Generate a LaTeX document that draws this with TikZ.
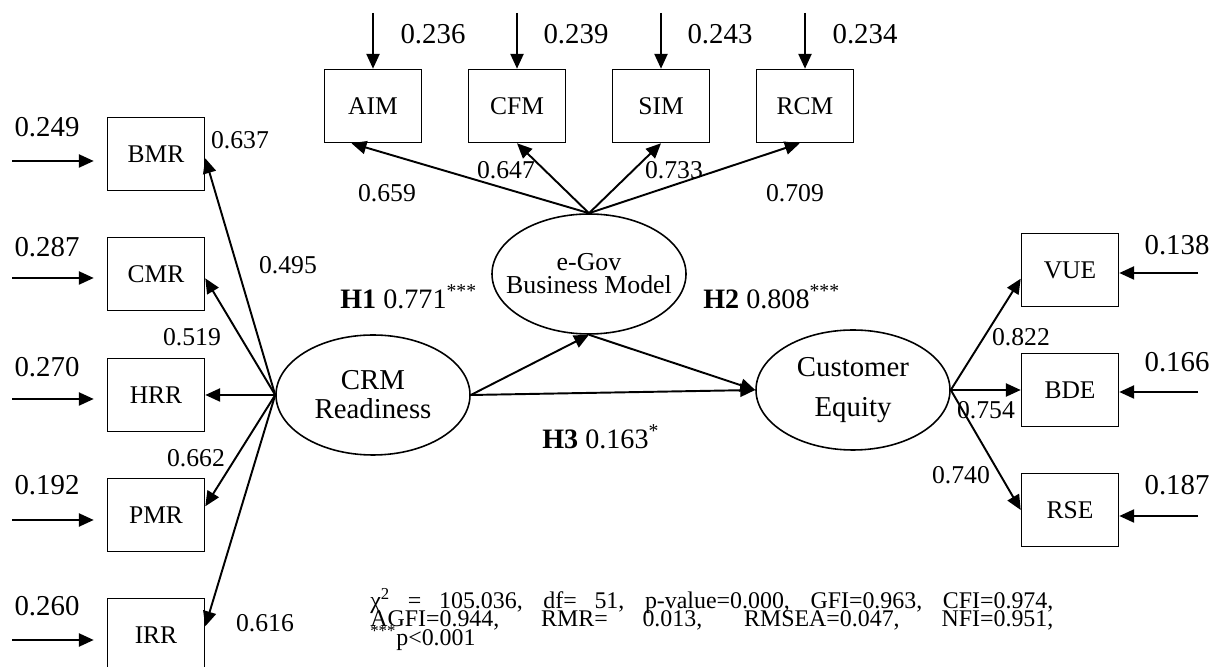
\documentclass[tikz,border=0pt]{standalone}
\usepackage{fontspec}
\setmainfont{Liberation Serif}
\usetikzlibrary{arrows.meta,shapes.geometric}

\begin{document}
\begin{tikzpicture}[
  obs/.style={draw,line width=0.9pt,minimum width=1.94cm,minimum height=1.46cm,inner sep=0pt,font=\fontsize{14.5}{17}\selectfont},
  latent/.style={draw,ellipse,line width=0.9pt,minimum width=3.88cm,minimum height=2.4cm,inner sep=0pt},
  load/.style={-{Triangle[length=8.5pt,width=7.5pt]},line width=1.1pt},
  ev/.style={font=\fontsize{16.4}{18}\selectfont},
  lv/.style={font=\fontsize{14.6}{17}\selectfont},
  hyp/.style={anchor=west,inner sep=0pt,font=\fontsize{16}{18}\selectfont},
  fitline/.style={anchor=base west,inner sep=0pt,font=\fontsize{13.6}{16}\selectfont}]
  \useasboundingbox (0,0) rectangle (24.34,13.34);
  % measured variables
  \node[obs] (bmr) at (3.12,10.26) {BMR};
  \node[obs] (cmr) at (3.12,7.86) {CMR};
  \node[obs] (hrr) at (3.12,5.44) {HRR};
  \node[obs] (pmr) at (3.12,3.04) {PMR};
  \node[obs] (irr) at (3.12,0.64) {IRR};
  \node[obs] (aim) at (7.46,11.22) {AIM};
  \node[obs] (cfm) at (10.34,11.22) {CFM};
  \node[obs] (sim) at (13.22,11.22) {SIM};
  \node[obs] (rcm) at (16.10,11.22) {RCM};
  \node[obs] (vue) at (21.40,7.94) {VUE};
  \node[obs] (bde) at (21.40,5.54) {BDE};
  \node[obs] (rse) at (21.40,3.14) {RSE};
  % latent constructs
  \node[latent] (crm) at (7.46,5.44) {};
  \node[align=center,font=\fontsize{16.4}{16.4}\selectfont] (crmtxt) at (crm) {CRM\\Readiness};
  \node[latent] (egov) at (11.78,7.86) {};
  \node[align=center,font=\fontsize{14.7}{13}\selectfont] (egovtxt) at (egov) {e-Gov\\Business Model};
  \node[latent] (ce) at (17.06,5.54) {};
  \node[align=center,font=\fontsize{16.4}{22.7}\selectfont] (cetxt) at (ce) {Customer\\Equity};
  % loadings
  \draw[load] (crm.west) -- (bmr.355);
  \draw[load] (crm.west) -- (cmr.355);
  \draw[load] (crm.west) -- (hrr.east);
  \draw[load] (crm.west) -- (pmr.10);
  \draw[load] (crm.west) -- (irr.10);
  \draw[load] (egov.north) -- (aim.240);
  \draw[load] (egov.north) -- (cfm.south);
  \draw[load] (egov.north) -- (sim.south);
  \draw[load] (egov.north) -- (rcm.262);
  \draw[load] (ce.east) -- (vue.190);
  \draw[load] (ce.east) -- (bde.west);
  \draw[load] (ce.east) -- (rse.west);
  \node[lv] (lbmr) at (4.80,10.54) {0.637};
  \node[lv] (lcmr) at (5.76,8.04) {0.495};
  \node[lv] (lhrr) at (3.84,6.60) {0.519};
  \node[lv] (lpmr) at (3.92,4.18) {0.662};
  \node[lv] (lirr) at (5.30,0.88) {0.616};
  \node[lv] (laim) at (7.74,9.48) {0.659};
  \node[lv] (lcfm) at (10.12,9.94) {0.647};
  \node[lv] (lsim) at (13.48,9.94) {0.733};
  \node[lv] (lrcm) at (15.90,9.48) {0.709};
  \node[lv] (lvue) at (20.42,6.60) {0.822};
  \node[lv] (lbde) at (19.72,5.14) {0.754};
  \node[lv] (lrse) at (19.22,3.84) {0.740};
  % structural paths
  \draw[load] (crm.east) -- (egov.south);
  \draw[load] (egov.south) -- (ce.west);
  \draw[load] (crm.east) -- (ce.west);
  \node[hyp] (h1) at (6.80,7.40) {\textbf{H1} 0.771\textsuperscript{***}};
  \node[hyp] (h2) at (14.06,7.40) {\textbf{H2} 0.808\textsuperscript{***}};
  \node[hyp] (h3) at (10.84,4.60) {\textbf{H3} 0.163\textsuperscript{*}};
  % error terms
  \coordinate (ebmr) at (0.24,10.12);
  \coordinate (ecmr) at (0.24,7.78);
  \coordinate (ehrr) at (0.24,5.36);
  \coordinate (epmr) at (0.24,2.94);
  \coordinate (eirr) at (0.24,0.54);
  \draw[load,shorten >=0.26cm] (ebmr) -- (ebmr -| bmr.west);
  \draw[load,shorten >=0.26cm] (ecmr) -- (ecmr -| cmr.west);
  \draw[load,shorten >=0.26cm] (ehrr) -- (ehrr -| hrr.west);
  \draw[load,shorten >=0.26cm] (epmr) -- (epmr -| pmr.west);
  \draw[load,shorten >=0.26cm] (eirr) -- (eirr -| irr.west);
  \node[ev] (vbmr) at (0.94,10.80) {0.249};
  \node[ev] (vcmr) at (0.94,8.40) {0.287};
  \node[ev] (vhrr) at (0.94,6.00) {0.270};
  \node[ev] (vpmr) at (0.94,3.64) {0.192};
  \node[ev] (virr) at (0.94,1.22) {0.260};
  \coordinate (eaim) at (7.46,13.08);
  \coordinate (ecfm) at (10.34,13.08);
  \coordinate (esim) at (13.22,13.08);
  \coordinate (ercm) at (16.10,13.08);
  \draw[load] (eaim) -- (aim.north);
  \draw[load] (ecfm) -- (cfm.north);
  \draw[load] (esim) -- (sim.north);
  \draw[load] (ercm) -- (rcm.north);
  \node[ev] (vaim) at (8.66,12.66) {0.236};
  \node[ev] (vcfm) at (11.52,12.66) {0.239};
  \node[ev] (vsim) at (14.40,12.66) {0.243};
  \node[ev] (vrcm) at (17.30,12.66) {0.234};
  \coordinate (evue) at (23.96,7.88);
  \coordinate (ebde) at (23.96,5.50);
  \coordinate (erse) at (23.96,3.02);
  \draw[load] (evue) -- (evue -| vue.east);
  \draw[load] (ebde) -- (ebde -| bde.east);
  \draw[load] (erse) -- (erse -| rse.east);
  \node[ev] (vvue) at (23.54,8.44) {0.138};
  \node[ev] (vbde) at (23.54,6.10) {0.166};
  \node[ev] (vrse) at (23.54,3.64) {0.187};
  % fit indices
  \node[fitline] (fit1) at (7.40,1.16)
    {\makebox[13.66cm][s]{χ\textsuperscript{2} = 105.036, df= 51, p-value=0.000, GFI=0.963, CFI=0.974,}};
  \node[fitline] (fit2) at (7.40,0.80)
    {\makebox[13.66cm][s]{AGFI=0.944, RMR= 0.013, RMSEA=0.047, NFI=0.951,}};
  \node[fitline] (fit3) at (7.40,0.42) {\textsuperscript{***}p<0.001};
\end{tikzpicture}
\end{document}
